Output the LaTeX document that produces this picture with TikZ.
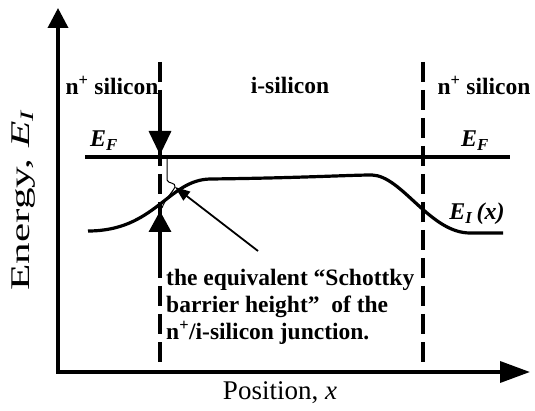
\documentclass[tikz,border=0pt]{standalone}
\usepackage{fontspec}
\setmainfont{Liberation Serif}
\usetikzlibrary{arrows.meta}
\begin{document}
\begin{tikzpicture}[x=1pt,y=-1pt,
  axis/.style={line width=3.6pt,line join=miter,{Triangle[length=20pt,width=20pt]}-{Triangle[length=30pt,width=21pt]}},
  divider/.style={line width=3.2pt,dash pattern=on 20pt off 8pt},
  level/.style={line width=3.2pt},
  bigarrow/.style={line width=3.4pt,-{Triangle[length=24pt,width=22pt]}},
  boldlabel/.style={font=\fontsize{23.5}{27}\selectfont\bfseries,inner sep=0pt},
  mathlabel/.style={font=\fontsize{24}{27}\selectfont\bfseries\itshape,inner sep=0pt},
  axislabel/.style={font=\fontsize{27}{30}\selectfont,inner sep=0pt}]
\useasboundingbox (0,0) rectangle (535,411);
% axes
\coordinate (ytip) at (58,8);
\coordinate (origin) at (58,372);
\coordinate (xtip) at (530,372);
\draw[axis] (ytip) -- (origin) -- (xtip);
% dividers
\coordinate (d1t) at (160,62);
\coordinate (d1b) at (160,372);
\coordinate (d2t) at (423,62);
\coordinate (d2b) at (423,372);
\draw[divider] (d1t) -- (d1b);
\draw[divider] (d2t) -- (d2b);
% Fermi level
\coordinate (efl) at (85,157);
\coordinate (efr) at (510,157);
\draw[level] (efl) -- (efr);
% intrinsic level
\coordinate (eil) at (88,231);
\coordinate (eir) at (503,233);
\draw[level] (eil) .. controls (155,231) and (168,180) .. (210,179)
  .. controls (300,178) and (350,175) .. (372,175)
  .. controls (402,176) and (430,233) .. (470,233) -- (eir);
% barrier arrows
\coordinate (a1s) at (160,97);
\coordinate (a1e) at (160,155);
\coordinate (a2s) at (160,268);
\coordinate (a2e) at (160,211);
\draw[bigarrow] (a1s) -- (a1e);
\draw[bigarrow,-{Triangle[length=21pt,width=22pt]}] (a2s) -- (a2e);
% thin barrier outline
\coordinate (tl) at (167,158);
\coordinate (tb) at (162,208);
\draw[line width=1pt] (tl) -- (167,180) .. controls (168,184) and (176,182) .. (175,187)
  .. controls (172,193) and (165,199) .. (tb);
% pointer
\node[boldlabel,anchor=west,align=left] (note) at (166,307)
  {the equivalent “Schottky\\barrier height”\ \ of the\\n\textsuperscript{+}/i-silicon junction.};
\coordinate (ps) at (258,251);
\coordinate (pe) at (175,187);
\draw[line width=1.8pt,-{Triangle[length=15pt,width=11pt]}] (ps) -- (pe);
% region labels
\node[boldlabel] (nl) at (112,85) {n\textsuperscript{+} silicon};
\node[boldlabel] (il) at (290,85) {i-silicon};
\node[boldlabel] (nr) at (484,85) {n\textsuperscript{+} silicon};
\node[mathlabel] (efa) at (104,141) {E\textsubscript{F}};
\node[mathlabel] (efb) at (475,141) {E\textsubscript{F}};
\node[mathlabel] (eix) at (477,214) {E\textsubscript{I}\,(x)};
% axis labels
\node[axislabel] (xl) at (280,393) {Position, \textit{x}};
\node[axislabel,rotate=90] (yl) at (24,200) {\scalebox{1.6}[1]{Energy, \textit{E}\textsubscript{\textit{I}}}};
\end{tikzpicture}
\end{document}
